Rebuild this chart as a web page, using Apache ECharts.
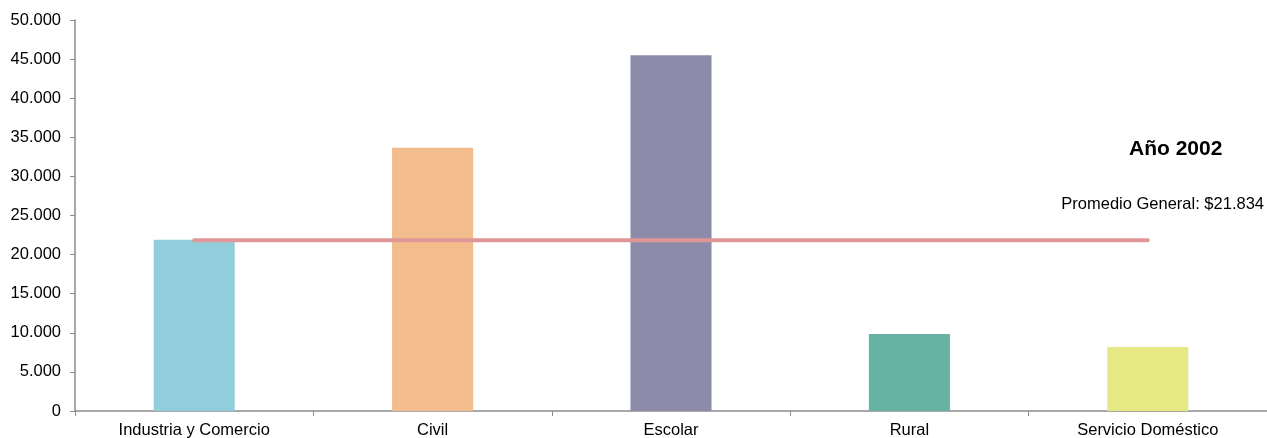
<!DOCTYPE html>
<html>
<head>
<meta charset="utf-8">
<script src="https://cdn.jsdelivr.net/npm/echarts@6/dist/echarts.min.js"></script>
<style>
html,body{margin:0;padding:0;background:#fff;}
#chart{width:1267px;height:438px;}
</style>
</head>
<body>
<div id="chart"></div>
<script>
const categories = ["Industria y Comercio", "Civil", "Escolar", "Rural", "Servicio Doméstico"];
const values = [21900, 33650, 45500, 9850, 8200];
const barColors = ["#92CDDC", "#F3BC8D", "#8C8CAA", "#66B3A6", "#E6E884"];
const promedio = 21834;
const promedioLine = categories.map(() => promedio);
const yTicks = { min: 0, max: 50000, interval: 5000 };
const titleText = "Año 2002";
const promedioText = "Promedio General: $21.834";

const font = "'Liberation Sans', Arial, sans-serif";
const chart = echarts.init(document.getElementById('chart'));
function fmt(v){ return String(v).replace(/\B(?=(\d{3})+(?!\d))/g, '.'); }
chart.setOption({
  animation: false,
  backgroundColor: '#fff',
  grid: { left: 75, right: 0, top: 20, bottom: 27, containLabel: false, outerBoundsMode: 'none' },
  xAxis: {
    type: 'category',
    data: categories,
    axisLine: { lineStyle: { color: '#8c8c8c', width: 1.5 } },
    axisTick: { show: true, length: 5, alignWithLabel: false, lineStyle: { color: '#8c8c8c' } },
    axisLabel: { color: '#000', fontSize: 16.5, fontFamily: font, margin: 11, interval: 0 }
  },
  yAxis: {
    type: 'value',
    min: yTicks.min, max: yTicks.max, interval: yTicks.interval,
    splitLine: { show: false },
    axisLine: { show: true, lineStyle: { color: '#8c8c8c', width: 1.5 } },
    axisTick: { show: true, length: 5, lineStyle: { color: '#8c8c8c' } },
    axisLabel: { color: '#000', fontSize: 16.5, fontFamily: font, margin: 14, formatter: fmt }
  },
  series: [
    {
      type: 'bar',
      data: values.map((v, i) => ({ value: v, itemStyle: { color: barColors[i] } })),
      barWidth: '34%'
    },
    {
      type: 'line',
      data: promedioLine,
      symbol: 'none',
      lineStyle: { color: '#DF9797', width: 4, cap: 'round' },
      z: 5
    }
  ],
  graphic: [
    { type: 'text', left: 1129, top: 139, style: { text: titleText, font: "bold 21px 'Liberation Sans', Arial, sans-serif", fill: '#000' } },
    { type: 'text', right: 3, top: 196, style: { text: promedioText, font: "16.5px 'Liberation Sans', Arial, sans-serif", fill: '#000' } }
  ]
});
</script>
</body>
</html>
